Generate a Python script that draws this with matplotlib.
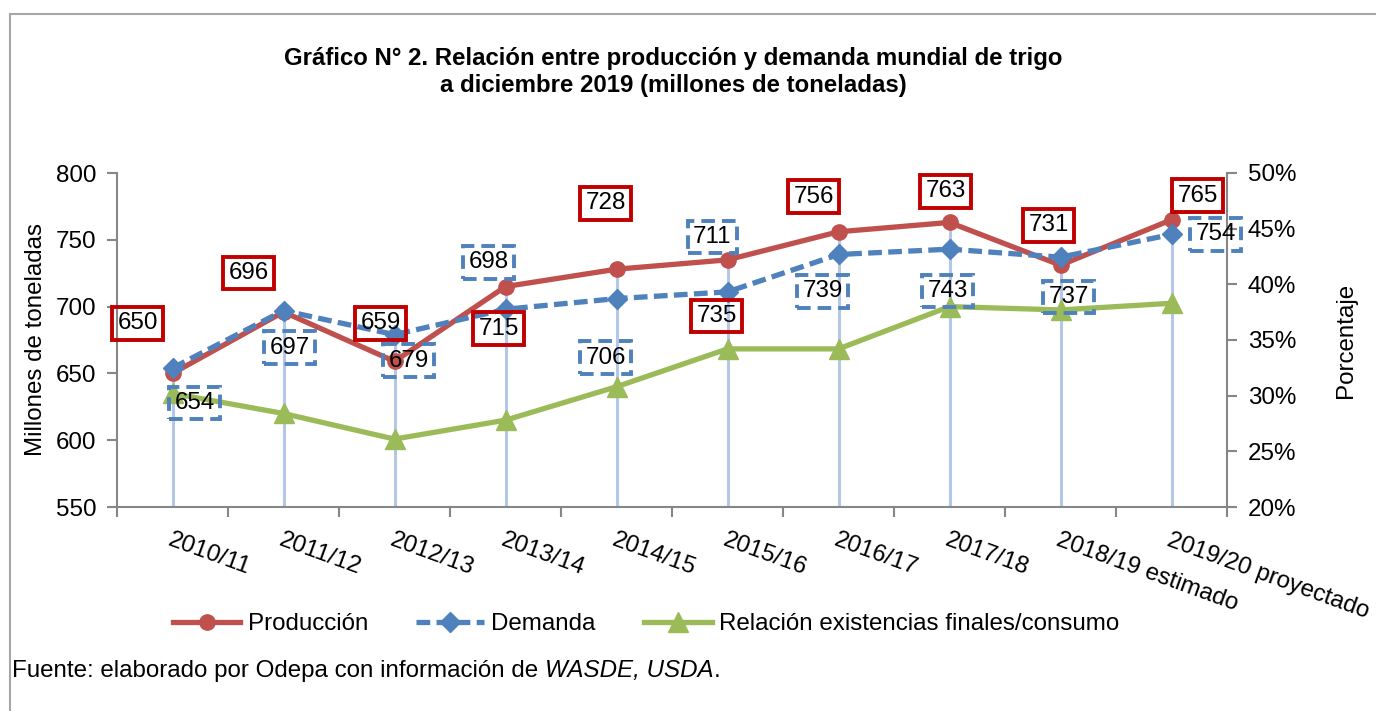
import matplotlib.pyplot as plt
from matplotlib.lines import Line2D
from matplotlib.ticker import FuncFormatter

plt.rcParams['font.family'] = ['Liberation Sans', 'DejaVu Sans']

# data
temporadas = ['2010/11', '2011/12', '2012/13', '2013/14', '2014/15',
              '2015/16', '2016/17', '2017/18', '2018/19 estimado', '2019/20 proyectado']
produccion = [650, 696, 659, 715, 728, 735, 756, 763, 731, 765]
demanda = [654, 697, 679, 698, 706, 711, 739, 743, 737, 754]
relacion = [30.2, 28.4, 26.1, 27.8, 30.8, 34.2, 34.2, 38.0, 37.7, 38.3]  # %

# label offsets in pixels (placement of the excel data labels)
off_prod = [(-35, 50), (-35, 39), (-14, 38), (-7, -42), (-11, 66),
            (-11, -56), (-25, 35), (-4, 31), (-12, 40), (26, 24)]
off_dem = [(22, -35), (6, -37), (14, -26), (-17, 47), (-11, -59),
           (-15, 55), (-16, -37), (-2, -42), (8, -40), (44, 0)]

rojo = '#c0504d'
azul = '#4f81bd'
verde = '#9bbb59'
gris = '#868686'
fs = 17.4
guion = (0, (2.6, 1.2))

W, H = 1376, 711
fig = plt.figure(figsize=(W / 100, H / 100), dpi=100)
ax = fig.add_axes([117 / W, 1 - 507 / H, (1227 - 117) / W, (507 - 173) / H])
ax2 = ax.twinx()

x = [i + 0.5 for i in range(len(temporadas))]

# drop lines
tops = [max(p, d) for p, d in zip(produccion, demanda)]
ax.vlines(x, 550, tops, color='#b4c7e7', lw=2.2, zorder=1)

ax.plot(x, produccion, color=rojo, lw=3.8, marker='o', ms=11, zorder=3,
        solid_capstyle='round')
ax.plot(x, demanda, color=azul, lw=3.8, ls=guion, marker='D', ms=10,
        zorder=3)
ax2.plot(x, [v / 100 for v in relacion], color=verde, lw=3.8, marker='^',
         ms=14, zorder=3)

ax.set_xlim(0, 10)
ax.set_ylim(550, 800)
ax.set_yticks(range(550, 801, 50))
ax2.set_ylim(0.20, 0.50)
ax2.set_yticks([0.20, 0.25, 0.30, 0.35, 0.40, 0.45, 0.50])
ax2.yaxis.set_major_formatter(FuncFormatter(lambda v, p: f'{v * 100:.0f}%'))

ax.set_xticks(x)
ax.set_xticklabels(temporadas, rotation=-20, ha='left', va='top',
                   rotation_mode='anchor', fontsize=fs)
ax.set_xticks(range(11), minor=True)
ax.tick_params(axis='x', which='major', length=0, pad=16)
ax.tick_params(axis='x', which='minor', length=7, width=1.5, color=gris)
ax.tick_params(axis='y', length=7, width=1.5, color=gris, labelsize=fs, pad=8)
ax2.tick_params(axis='y', length=7, width=1.5, color=gris, labelsize=fs, pad=8)

for a in (ax, ax2):
    a.spines['top'].set_visible(False)
    for s in ('left', 'right', 'bottom'):
        a.spines[s].set_color(gris)
        a.spines[s].set_linewidth(1.5)
ax.spines['right'].set_visible(False)
ax2.spines['left'].set_visible(False)
ax2.spines['bottom'].set_visible(False)

ax.set_ylabel('Millones de toneladas', fontsize=fs, labelpad=6)
ax2.set_ylabel('Porcentaje', fontsize=fs, labelpad=28)

# data labels
for xi, v, (dx, dy) in zip(x, produccion, off_prod):
    ax2.annotate(str(v), (xi, v), xycoords=ax.transData,
                 xytext=(dx, dy), textcoords='offset pixels',
                 ha='center', va='center', fontsize=fs, zorder=5,
                 annotation_clip=False,
                 bbox=dict(boxstyle='square,pad=0.22', fc='none',
                           ec='#c00000', lw=2.8))
for xi, v, (dx, dy) in zip(x, demanda, off_dem):
    ax2.annotate(str(v), (xi, v), xycoords=ax.transData,
                 xytext=(dx, dy), textcoords='offset pixels',
                 ha='center', va='center', fontsize=fs, zorder=5,
                 annotation_clip=False,
                 bbox=dict(boxstyle='square,pad=0.22', fc='none',
                           ec=azul, lw=2.8, ls=(0, (3.5, 1.8))))

# title
fig.text(673 / W, 1 - 72 / H,
         'Gráfico N° 2. Relación entre producción y demanda mundial de trigo\n'
         'a diciembre 2019 (millones de toneladas)',
         ha='center', va='center', fontsize=17.3, fontweight='bold',
         linespacing=1.2)

# legend
handles = [
    Line2D([], [], color=rojo, lw=3.8, marker='o', ms=11),
    Line2D([], [], color=azul, lw=3.8, ls=guion, marker='D', ms=10),
    Line2D([], [], color=verde, lw=3.8, marker='^', ms=14),
]
fig.legend(handles, ['Producción', 'Demanda',
                     'Relación existencias finales/consumo'],
           loc='center', bbox_to_anchor=(646 / W, 1 - 624 / H), ncol=3,
           frameon=False, fontsize=fs, handlelength=2.8, handletextpad=0.3,
           columnspacing=2.0, numpoints=1)

# source line with italic part
fig.canvas.draw()
r = fig.canvas.get_renderer()
ypos = 1 - 671 / H
t1 = fig.text(12 / W, ypos, 'Fuente: elaborado por Odepa con información de ',
              fontsize=fs, va='center')
bb = t1.get_window_extent(r)
t2 = fig.text(bb.x1 / W, ypos, 'WASDE, USDA', fontsize=fs, va='center',
              style='italic')
bb = t2.get_window_extent(r)
fig.text(bb.x1 / W, ypos, '.', fontsize=fs, va='center')

# outer frame (top and left edges)
fig.add_artist(Line2D([10 / W, 10 / W], [0, 1 - 14 / H], color='#a6a6a6', lw=1.5))
fig.add_artist(Line2D([10 / W, 1], [1 - 14 / H, 1 - 14 / H], color='#a6a6a6', lw=1.5))

fig.savefig('out.png', dpi=100, facecolor='white')
